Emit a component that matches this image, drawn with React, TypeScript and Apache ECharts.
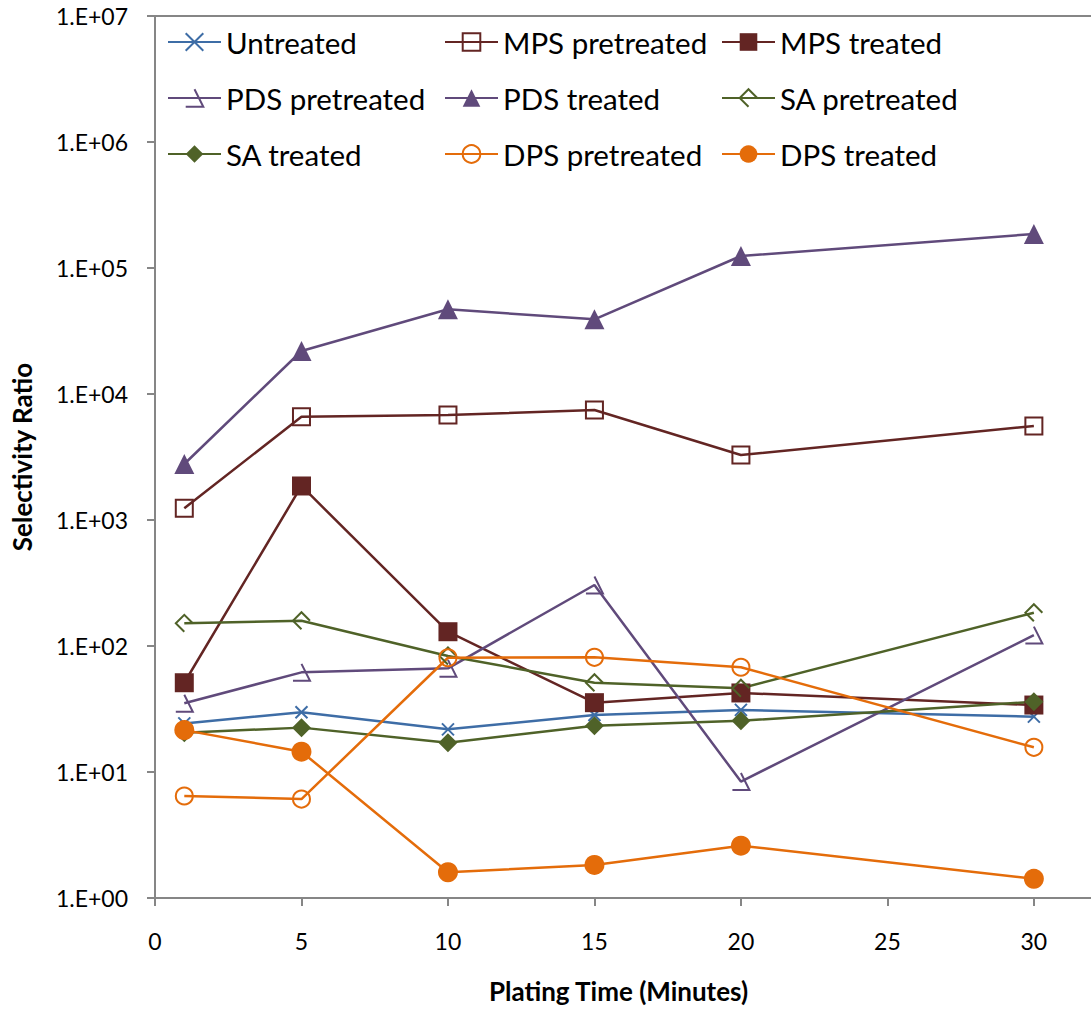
import React, { useEffect, useRef } from "react";
import * as echarts from "echarts";

const xValues = [1, 5, 10, 15, 20, 30];
const xTicks = [0, 5, 10, 15, 20, 25, 30];

const untreated = [24.3, 29.8, 21.8, 28.3, 31.1, 27.5];
const mpsPretreated = [1239, 6607, 6814, 7464, 3280, 5572];
const mpsTreated = [51.1, 1862, 129.8, 35.5, 42.4, 34.0];
const pdsPretreated = [35.1, 61.8, 66.5, 305, 8.4, 122];
const pdsTreated = [2782, 21950, 46990, 39160, 124500, 186200];
const saPretreated = [151.4, 158.7, 83.3, 51.1, 46.2, 183.7];
const saTreated = [20.5, 22.5, 17.1, 23.3, 25.5, 36.1];
const dpsPretreated = [6.45, 6.1, 80.7, 81.3, 67.8, 15.7];
const dpsTreated = [21.5, 14.5, 1.6, 1.83, 2.6, 1.42];

const legendCol1 = ["Untreated", "PDS pretreated", "SA treated"];
const legendCol2 = ["MPS pretreated", "PDS treated", "DPS pretreated"];
const legendCol3 = ["MPS treated", "SA pretreated", "DPS treated"];

const BLUE = "#3E6DA6";
const RED = "#632523";
const PURPLE = "#604A7B";
const GREEN = "#4F6228";
const ORANGE = "#E46C0A";
const AXIS = "#868686";
const FONT = "Lato";

const CROSS = "path://M0,0L10,10M0,10L10,0";
const OPEN_TRI = "path://M0,20L20,20L10,0";
const OPEN_DIAMOND = "path://M10,20L0,10L10,0L20,10";

type Spec = {
  name: string;
  data: number[];
  color: string;
  symbol: string;
  size: number;
  filled: boolean;
};

const specs: Spec[] = [
  { name: "Untreated", data: untreated, color: BLUE, symbol: CROSS, size: 12, filled: false },
  { name: "MPS pretreated", data: mpsPretreated, color: RED, symbol: "rect", size: 17, filled: false },
  { name: "MPS treated", data: mpsTreated, color: RED, symbol: "rect", size: 19, filled: true },
  { name: "PDS pretreated", data: pdsPretreated, color: PURPLE, symbol: OPEN_TRI, size: 17, filled: false },
  { name: "PDS treated", data: pdsTreated, color: PURPLE, symbol: "triangle", size: 20, filled: true },
  { name: "SA pretreated", data: saPretreated, color: GREEN, symbol: OPEN_DIAMOND, size: 17, filled: false },
  { name: "SA treated", data: saTreated, color: GREEN, symbol: "diamond", size: 19, filled: true },
  { name: "DPS pretreated", data: dpsPretreated, color: ORANGE, symbol: "circle", size: 17, filled: false },
  { name: "DPS treated", data: dpsTreated, color: ORANGE, symbol: "circle", size: 20, filled: true },
];

function makeLegend(names: string[], left: number) {
  return {
    data: names,
    orient: "vertical",
    left,
    top: 25,
    padding: 0,
    itemWidth: 53,
    itemHeight: 22,
    itemGap: 22,
    selectedMode: false,
    textStyle: {
      fontFamily: FONT,
      fontSize: 29.5,
      color: "#000",
      lineHeight: 34,
    },
  };
}

export default function App() {
  const ref = useRef<HTMLDivElement>(null);

  useEffect(() => {
    if (!ref.current) return;
    const chart = echarts.init(ref.current, undefined, { renderer: "svg" });
    const xMax = 31.95;
    const option: any = {
      animation: false,
      backgroundColor: "#fff",
      textStyle: { fontFamily: FONT },
      grid: { left: 155, right: 0, top: 16, bottom: 111, containLabel: false },
      legend: [makeLegend(legendCol1, 167), makeLegend(legendCol2, 444), makeLegend(legendCol3, 721)],
      xAxis: [
        {
          type: "value",
          min: 0,
          max: xMax,
          interval: 5,
          name: "Plating Time (Minutes)",
          nameLocation: "middle",
          nameGap: 80,
          nameTextStyle: {
            fontFamily: FONT,
            fontSize: 26,
            fontWeight: "bold",
            color: "#000",
            padding: [0, 9, 0, 0],
          },
          axisLine: { show: true, lineStyle: { color: AXIS, width: 2 } },
          axisTick: { show: true, length: 8, lineStyle: { color: AXIS, width: 2 }, customValues: xTicks },
          axisLabel: {
            fontFamily: FONT,
            fontSize: 23,
            color: "#000",
            margin: 31,
            customValues: xTicks,
          },
          splitLine: { show: false },
        },
        {
          type: "value",
          position: "top",
          min: 0,
          max: xMax,
          axisLine: { show: true, onZero: false, lineStyle: { color: AXIS, width: 2 } },
          axisTick: { show: false },
          axisLabel: { show: false },
          splitLine: { show: false },
        },
      ],
      yAxis: {
        type: "log",
        logBase: 10,
        min: 1,
        max: 1e7,
        interval: 1,
        name: "Selectivity Ratio",
        nameLocation: "middle",
        nameGap: 120,
        nameTextStyle: { fontFamily: FONT, fontSize: 26, fontWeight: "bold", color: "#000" },
        axisLine: { show: true, lineStyle: { color: AXIS, width: 2 } },
        axisTick: { show: true, length: 8, lineStyle: { color: AXIS, width: 2 } },
        axisLabel: {
          fontFamily: FONT,
          fontSize: 23,
          color: "#000",
          margin: 27,
          formatter: (v: number) => {
            const e = Math.round(Math.log10(v));
            return "1.E+" + (e < 10 ? "0" : "") + e;
          },
        },
        splitLine: { show: false },
      },
      series: specs.map((s) => ({
        name: s.name,
        type: "line",
        xAxisIndex: 0,
        data: xValues.map((x, i) => [x, s.data[i]]),
        symbol: s.symbol,
        symbolSize: s.size,
        showAllSymbol: true,
        color: s.color,
        lineStyle: { color: s.color, width: 2.5 },
        itemStyle: s.filled
          ? { color: s.color, borderColor: s.color, borderWidth: 0 }
          : { color: "rgba(0,0,0,0)", borderColor: s.color, borderWidth: 2 },
        emphasis: { disabled: true },
      })),
    };
    chart.setOption(option);
    return () => chart.dispose();
  }, []);

  return (
    <div
      ref={ref}
      style={{ position: "absolute", left: 0, top: 0, width: 1091, height: 1009, background: "#fff" }}
    />
  );
}
